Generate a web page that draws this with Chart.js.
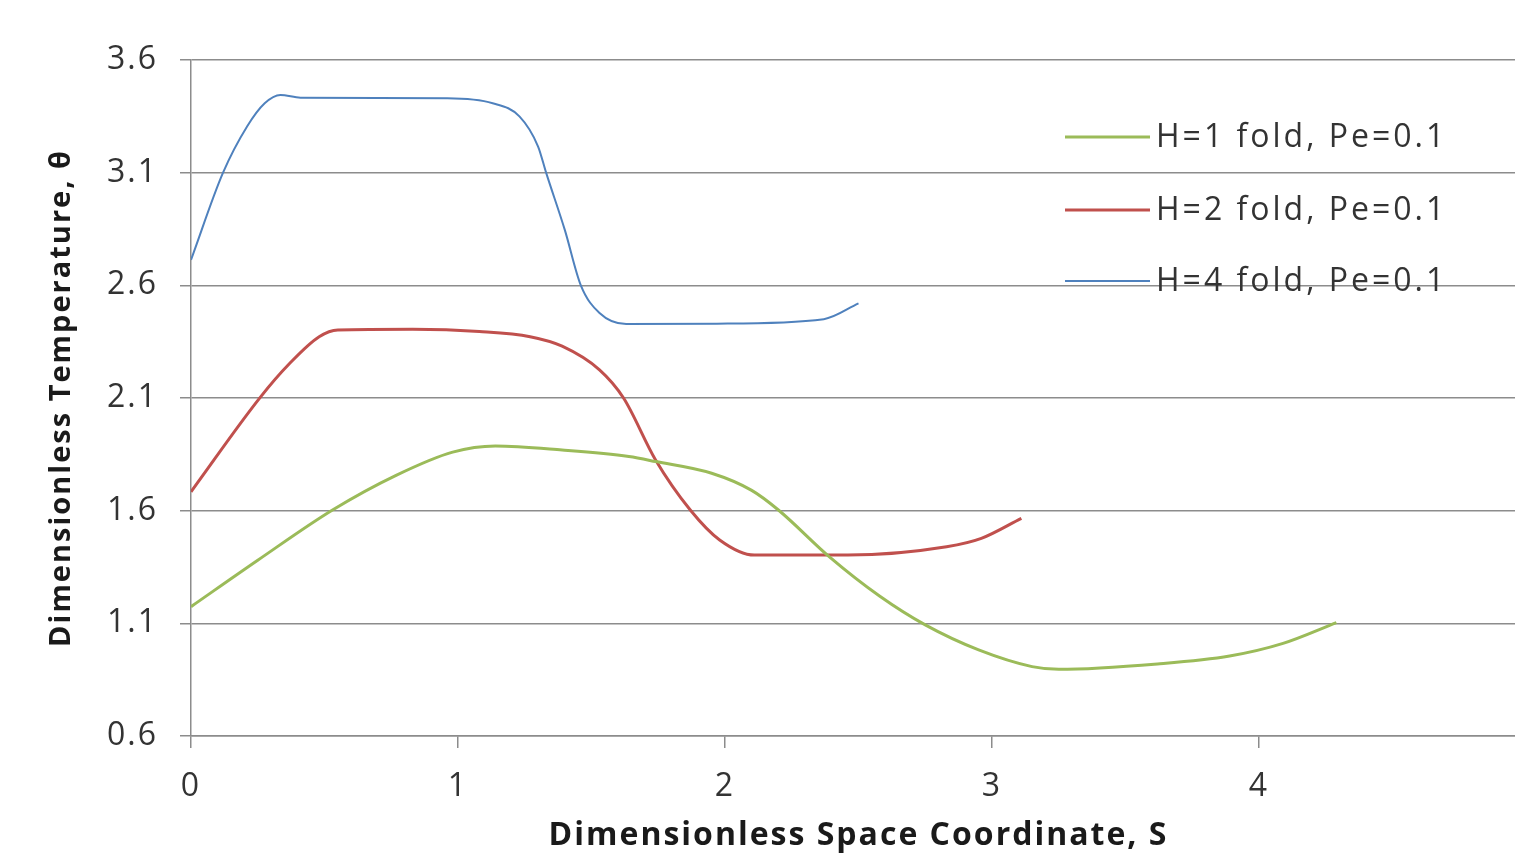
<!DOCTYPE html>
<html>
<head>
<meta charset="utf-8">
<script src="https://cdn.jsdelivr.net/npm/chart.js@4.4.1/dist/chart.umd.min.js"></script>
<style>
    html, body { margin: 0; padding: 0; background: #fff; overflow: hidden; }
    #wrap { width: 1545px; height: 855px; }
</style>
</head>
<body>
<div id="wrap"><canvas id="tempChart" width="1545" height="855"></canvas></div>
<script>
// S (trục x) và theta (trục y)
const seriesLabels = ['H=1 fold, Pe=0.1', 'H=2 fold, Pe=0.1', 'H=4 fold, Pe=0.1'];
const seriesColors = ['#9bbb59', '#c0504d', '#4f81bd'];
const seriesWidths = [3, 3, 2];

const h1S = [0, 0.25, 0.53, 0.77, 0.98, 1.14, 1.39, 1.64, 1.74, 1.95, 2.1, 2.2, 2.39, 2.58, 2.75, 2.95, 3.15, 3.25, 3.62, 3.89, 4.09, 4.29];
const h1T = [1.174, 1.38, 1.603, 1.758, 1.86, 1.887, 1.869, 1.84, 1.818, 1.766, 1.69, 1.603, 1.396, 1.22, 1.093, 0.982, 0.908, 0.896, 0.92, 0.955, 1.011, 1.103];

const h2S = [0, 0.26, 0.37, 0.48, 0.55, 0.83, 1.08, 1.27, 1.39, 1.53, 1.62, 1.74, 1.87, 1.98, 2.11, 2.46, 2.83, 2.96, 3.11];
const h2T = [1.684, 2.104, 2.254, 2.372, 2.402, 2.405, 2.395, 2.372, 2.33, 2.225, 2.10, 1.825, 1.603, 1.47, 1.403, 1.403, 1.44, 1.477, 1.566];

const h4S = [0, 0.12, 0.21, 0.276, 0.335, 0.41, 0.96, 1.13, 1.23, 1.30, 1.33, 1.40, 1.46, 1.53, 1.63, 1.97, 2.37, 2.50];
const h4T = [2.713, 3.10, 3.305, 3.408, 3.445, 3.433, 3.43, 3.408, 3.35, 3.216, 3.1, 2.846, 2.6, 2.477, 2.428, 2.43, 2.45, 2.52];

const xTicks = [0, 1, 2, 3, 4, 5];
const yTicks = [0.6, 1.1, 1.6, 2.1, 2.6, 3.1, 3.6];

const toPoints = (xs, ys) => xs.map((x, i) => ({ x: x, y: ys[i] }));
const allS = [h1S, h2S, h4S];
const allT = [h1T, h2T, h4T];

// chữ trong hình gốc hơi giãn ngang
const wideText = {
    id: 'wideText',
    beforeDraw(chart) {
        chart.ctx.letterSpacing = '2px';
    },
};

// Chú thích vẽ bên trong vùng biểu đồ
const insideLegend = {
    id: 'insideLegend',
    afterDraw(chart) {
        const ctx = chart.ctx;
        const rows = [137, 210, 281];
        ctx.save();
        ctx.font = '32px "Open Sans"';
        ctx.letterSpacing = '3px';
        ctx.textBaseline = 'middle';
        ctx.textAlign = 'left';
        chart.data.datasets.forEach((ds, i) => {
            ctx.strokeStyle = ds.borderColor;
            ctx.lineWidth = ds.borderWidth;
            ctx.beginPath();
            ctx.moveTo(1065, rows[i]);
            ctx.lineTo(1150, rows[i]);
            ctx.stroke();
            ctx.fillStyle = '#333';
            ctx.fillText(ds.label, 1156, rows[i] + 1);
        });
        ctx.restore();
    },
};

document.addEventListener('DOMContentLoaded', () => {
    const ctx = document.getElementById('tempChart').getContext('2d');
    const tempChart = new Chart(ctx, {
        type: 'line',
        data: {
            datasets: seriesLabels.map((label, i) => ({
                label: label,
                data: toPoints(allS[i], allT[i]),
                borderColor: seriesColors[i],
                borderWidth: seriesWidths[i],
                pointRadius: 0,
                fill: false,
                cubicInterpolationMode: 'monotone',
            })),
        },
        options: {
            responsive: false,
            animation: false,
            layout: { padding: { left: 0, top: 60, right: 19, bottom: 0 } },
            plugins: {
                legend: { display: false },
                tooltip: { enabled: false },
            },
            scales: {
                x: {
                    type: 'linear',
                    min: 0,
                    max: 5,
                    afterFit: (scale) => {
                        scale.height = 119;
                        scale.paddingLeft = 0;
                        scale.paddingRight = 0;
                    },
                    afterBuildTicks: (scale) => { scale.ticks = xTicks.map(v => ({ value: v })); },
                    grid: { drawOnChartArea: false, drawTicks: true, tickLength: 12, color: '#8c8c8c', lineWidth: 1.5 },
                    border: { display: true, color: '#8c8c8c', width: 1.5 },
                    ticks: {
                        padding: 20,
                        color: '#333',
                        font: { family: 'Open Sans', size: 32 },
                        callback: (v) => String(v),
                    },
                    title: {
                        display: true,
                        text: 'Dimensionless Space Coordinate, S',
                        color: '#1a1a1a',
                        font: { family: 'Open Sans', size: 32, weight: 'bold' },
                        padding: { top: 0, bottom: 0 },
                    },
                },
                y: {
                    type: 'linear',
                    min: 0.6,
                    max: 3.6,
                    afterFit: (scale) => {
                        scale.width = 191;
                        scale.paddingTop = 0;
                        scale.paddingBottom = 0;
                    },
                    afterBuildTicks: (scale) => { scale.ticks = yTicks.map(v => ({ value: v })); },
                    grid: { drawTicks: true, tickLength: 11, color: '#8c8c8c', lineWidth: 1.5 },
                    border: { display: true, color: '#8c8c8c', width: 1.5 },
                    ticks: {
                        padding: 22,
                        color: '#333',
                        font: { family: 'Open Sans', size: 32 },
                        callback: (v) => Number(v).toFixed(1),
                    },
                    title: {
                        display: true,
                        text: 'Dimensionless Temperature, θ',
                        color: '#1a1a1a',
                        font: { family: 'Open Sans', size: 29, weight: 'bold' },
                        padding: { top: 44, bottom: 0 },
                    },
                },
            },
        },
        plugins: [wideText, insideLegend],
    });
});
</script>
</body>
</html>
